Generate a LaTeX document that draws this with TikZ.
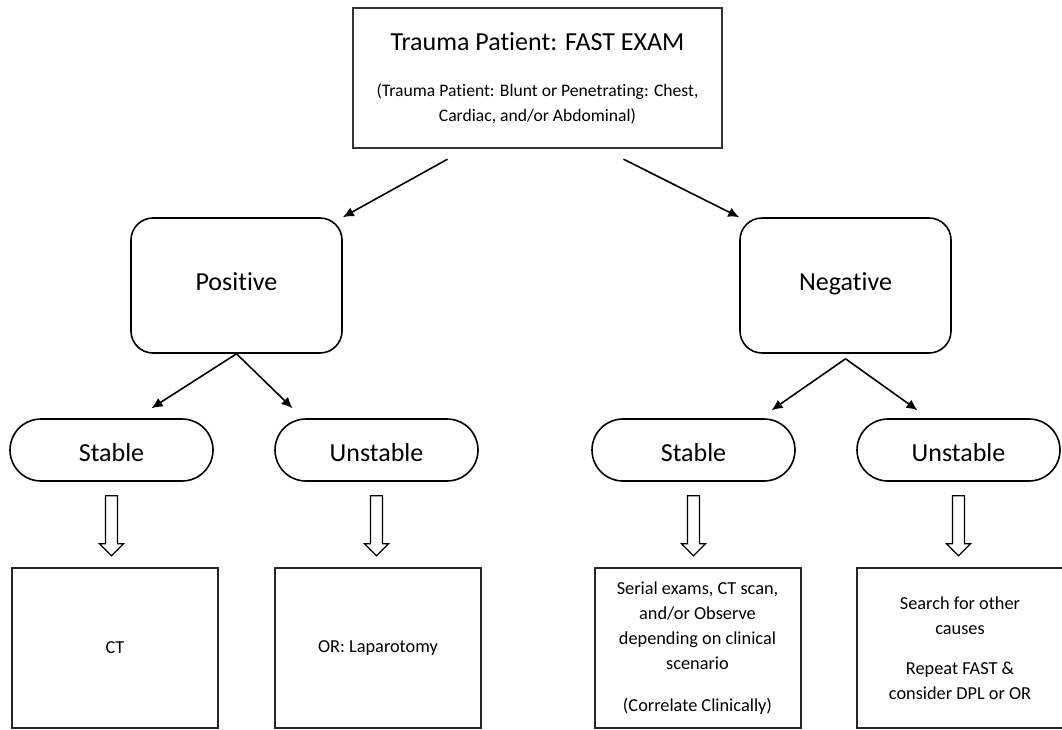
\documentclass[tikz,border=0pt]{standalone}
\usepackage{fontspec}
\setmainfont{Carlito}[Ligatures={NoCommon}]
\usetikzlibrary{arrows.meta,calc}

\begin{document}
\begin{tikzpicture}[
    x=1pt, y=-1pt,
    headbox/.style={draw=black!80, line width=2.4pt, minimum width=369pt, minimum height=140pt, align=center, inner sep=0pt, font=\fontsize{17.6}{25}\selectfont},
    resultbox/.style={draw=black, line width=1.6pt, rounded corners=22pt, minimum width=211pt, minimum height=135pt, text height=18pt, text depth=8pt, font=\fontsize{26}{31}\selectfont},
    pill/.style={draw=black, line width=1.6pt, rounded corners=31pt, minimum width=203pt, minimum height=62pt, text height=22pt, text depth=0pt, font=\fontsize{26}{31}\selectfont},
    plan/.style={draw=black!85, line width=2pt, minimum width=206pt, minimum height=160pt, align=center, font=\fontsize{18.3}{25}\selectfont},
    arr/.style={-{Latex[length=11pt,width=10pt]}, line width=1.6pt},
    hollow/.style={draw=black, line width=1.3pt, fill=white}
]
\useasboundingbox (0,0) rectangle (1062,729);

\node[headbox] (top) at (537.5,78) {{\fontsize{26}{31}\selectfont Trauma Patient: FAST EXAM}\\[21pt]
  (Trauma Patient: Blunt or Penetrating: Chest,\\
  Cardiac, and/or Abdominal)};

\node[resultbox] (pos) at (236.5,285.5) {Positive};
\node[resultbox] (neg) at (845.5,285.5) {Negative};

\node[pill] (sl) at (111.5,450) {Stable};
\node[pill] (ul) at (376.5,450) {Unstable};
\node[pill] (sr) at (693.5,450) {Stable};
\node[pill] (ur) at (958.5,450) {Unstable};

\node[plan] (ct) at (115,648) {CT};
\node[plan] (orl) at (378,648) {OR: Laparotomy};
\node[plan] (ser) at (697.5,648) {Serial exams, CT scan,\\ and/or Observe\\ depending on clinical\\ scenario\\[17pt] (Correlate Clinically)};
\node[plan] (srch) at (960,648) {Search for other\\ causes\\[15pt] Repeat FAST \&\\ consider DPL or OR};

% from the exam to the two results
\draw[arr] ([xshift=-90pt,yshift=-10pt]top.south) -- (pos.north east);
\draw[arr] ([xshift=86pt,yshift=-10pt]top.south) -- (neg.north west);

% split by stability
\draw[arr] (pos.south) -- ([xshift=40pt,yshift=10pt]sl.north);
\draw[arr] (pos.south) -- ([xshift=-84pt,yshift=10pt]ul.north);
\draw[arr] ([yshift=-5pt]neg.south) -- ([xshift=78pt,yshift=8pt]sr.north);
\draw[arr] ([yshift=-5pt]neg.south) -- ([xshift=-41pt,yshift=8pt]ur.north);

% block arrows down to the plans
\foreach \p/\b in {sl/ct, ul/orl, sr/ser, ur/srch}{
  \draw[hollow] ($(\p.south)+(-6,14)$) -- ++(0,48) -- ++(-6,0) -- ++(12,12)
     -- ++(12,-12) -- ++(-6,0) -- ++(0,-48) -- cycle;
}

\end{tikzpicture}
\end{document}
